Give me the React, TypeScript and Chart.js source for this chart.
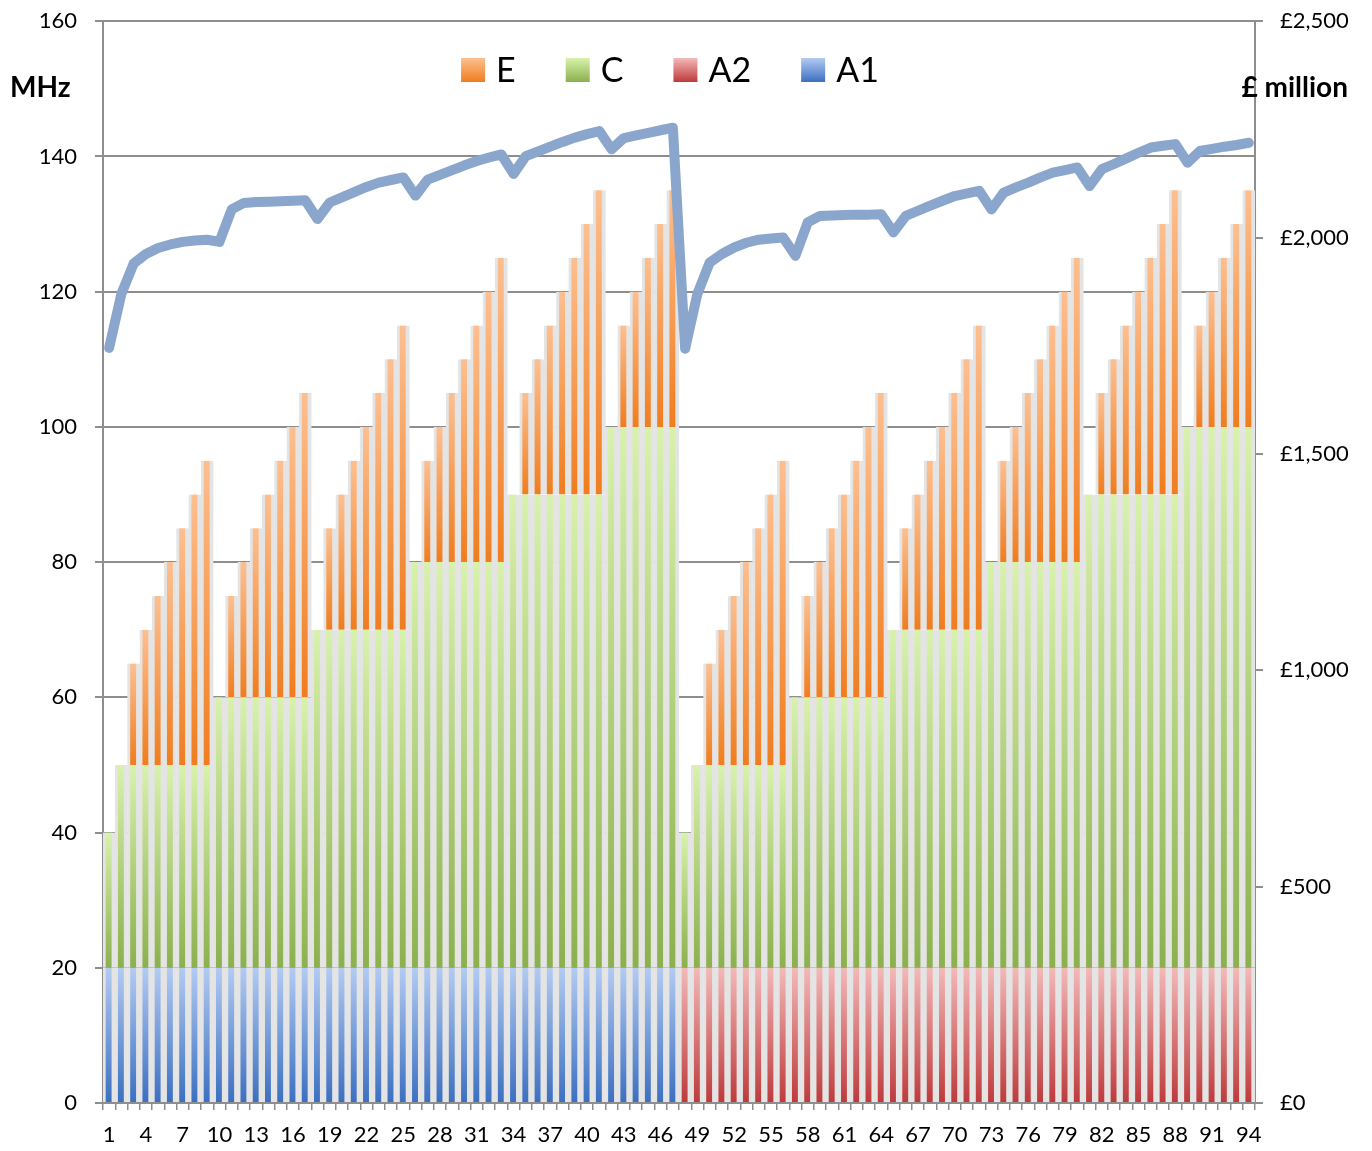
import React, { useEffect, useRef } from 'react';
import { Chart, registerables } from 'chart.js';

Chart.register(...registerables);

const categories = [
  '1','2','3','4','5','6','7','8','9','10','11','12','13','14','15','16','17','18','19','20',
  '21','22','23','24','25','26','27','28','29','30','31','32','33','34','35','36','37','38','39','40',
  '41','42','43','44','45','46','47','48','49','50','51','52','53','54','55','56','57','58','59','60',
  '61','62','63','64','65','66','67','68','69','70','71','72','73','74','75','76','77','78','79','80',
  '81','82','83','84','85','86','87','88','89','90','91','92','93','94',
];

const seriesA1 = [
  20,20,20,20,20,20,20,20,20,20,20,20,20,20,20,20,20,20,20,20,20,20,20,20,
  20,20,20,20,20,20,20,20,20,20,20,20,20,20,20,20,20,20,20,20,20,20,20,
  null,null,null,null,null,null,null,null,null,null,null,null,null,null,null,null,null,null,null,null,null,null,null,null,
  null,null,null,null,null,null,null,null,null,null,null,null,null,null,null,null,null,null,null,null,null,null,null,
];

const seriesA2 = [
  null,null,null,null,null,null,null,null,null,null,null,null,null,null,null,null,null,null,null,null,null,null,null,null,
  null,null,null,null,null,null,null,null,null,null,null,null,null,null,null,null,null,null,null,null,null,null,null,
  20,20,20,20,20,20,20,20,20,20,20,20,20,20,20,20,20,20,20,20,20,20,20,20,
  20,20,20,20,20,20,20,20,20,20,20,20,20,20,20,20,20,20,20,20,20,20,20,
];

const seriesC = [
  20, 30,30,30,30,30,30,30,30, 40,40,40,40,40,40,40,40, 50,50,50,50,50,50,50,50,
  60,60,60,60,60,60,60,60, 70,70,70,70,70,70,70,70, 80,80,80,80,80,80,
  20, 30,30,30,30,30,30,30,30, 40,40,40,40,40,40,40,40, 50,50,50,50,50,50,50,50,
  60,60,60,60,60,60,60,60, 70,70,70,70,70,70,70,70, 80,80,80,80,80,80,
];

const seriesE = [
  null, null,15,20,25,30,35,40,45, null,15,20,25,30,35,40,45, null,15,20,25,30,35,40,45,
  null,15,20,25,30,35,40,45, null,15,20,25,30,35,40,45, null,15,20,25,30,35,
  null, null,15,20,25,30,35,40,45, null,15,20,25,30,35,40,45, null,15,20,25,30,35,40,45,
  null,15,20,25,30,35,40,45, null,15,20,25,30,35,40,45, null,15,20,25,30,35,
];

const lineValues = [
  1745,1870,1940,1962,1976,1984,1990,1993,1995,1990,2065,2080,2082,2083,2084,2085,2086,
  2043,2081,2093,2105,2117,2127,2133,2139,2097,2134,2145,2156,2167,2177,2185,2192,
  2147,2188,2199,2210,2221,2231,2239,2246,2204,2230,2236,2242,2248,2254,
  1743,1870,1942,1962,1977,1988,1995,1998,2000,1958,2035,2050,2051,2052,2053,2053,2054,
  2012,2050,2062,2074,2085,2096,2102,2108,2065,2104,2116,2127,2139,2150,2156,2162,
  2119,2158,2170,2183,2196,2208,2212,2216,2173,2200,2205,2210,2214,2219,
];

const seriesNames = ['A1', 'A2', 'C', 'E'];
const legendOrder = ['E', 'C', 'A2', 'A1'];
const leftAxisTitle = 'MHz';
const rightAxisTitle = '£ million';

const FONT = 'Lato, "Open Sans", sans-serif';
const GRID = '#8e8e8e';
const SHIFT = 10; // canvas is lifted by this many px so the plot top sits at y=20

const palette: Record<string, { top: string; bottom: string }> = {
  A1: { top: '#b3cbf2', bottom: '#3b6fc0' },
  A2: { top: '#f3b9b9', bottom: '#be3a3a' },
  C: { top: '#d8f2ac', bottom: '#8cb04e' },
  E: { top: '#fdbf90', bottom: '#f07d1e' },
};

function baseOf(name: string, i: number): number {
  if (name === 'C') return (seriesA1[i] ?? seriesA2[i] ?? 0) as number;
  if (name === 'E') return ((seriesA1[i] ?? seriesA2[i] ?? 0) as number) + ((seriesC[i] ?? 0) as number);
  return 0;
}

function gradientFor(name: string) {
  return (c: any) => {
    const col = palette[name];
    if (c.type !== 'data') return col.bottom;
    const chart = c.chart;
    const y = chart.scales && chart.scales.y;
    const v = c.dataset.data[c.dataIndex];
    if (!y || v == null) return col.bottom;
    const b = baseOf(name, c.dataIndex);
    const top = y.getPixelForValue(b + v);
    const bot = y.getPixelForValue(b);
    if (!isFinite(top) || !isFinite(bot) || top === bot) return col.bottom;
    const g = chart.ctx.createLinearGradient(0, top, 0, bot);
    g.addColorStop(0, col.top);
    g.addColorStop(1, col.bottom);
    return g;
  };
}

const dataForName: Record<string, (number | null)[]> = {
  A1: seriesA1,
  A2: seriesA2,
  C: seriesC,
  E: seriesE,
};

const overlayPlugin = {
  id: 'overlay',
  afterDraw(chart: any) {
    const ctx = chart.ctx;
    const area = chart.chartArea;
    ctx.save();
    // axis titles
    ctx.fillStyle = '#000';
    ctx.font = `bold 28px ${FONT}`;
    ctx.textBaseline = 'middle';
    ctx.textAlign = 'left';
    ctx.fillText(leftAxisTitle, 10, 88 + SHIFT);
    ctx.textAlign = 'right';
    ctx.fillText(rightAxisTitle, 1348, 88 + SHIFT);
    // legend
    ctx.font = `34px ${FONT}`;
    ctx.textAlign = 'left';
    const box = 24;
    const gapText = 11;
    const gapItem = 50;
    let total = 0;
    legendOrder.forEach((n, k) => {
      total += box + gapText + ctx.measureText(n).width + (k < legendOrder.length - 1 ? gapItem : 0);
    });
    let x = (area.left + area.right) / 2 - total / 2 - 9;
    const cy = 70 + SHIFT;
    legendOrder.forEach((n) => {
      const col = palette[n];
      const g = ctx.createLinearGradient(0, cy - box / 2, 0, cy + box / 2);
      g.addColorStop(0, col.top);
      g.addColorStop(1, col.bottom);
      ctx.fillStyle = g;
      ctx.fillRect(x, cy - box / 2, box, box);
      ctx.fillStyle = '#000';
      ctx.fillText(n, x + box + gapText, cy + 1);
      x += box + gapText + ctx.measureText(n).width + gapItem;
    });
    ctx.restore();
  },
};

export default function App() {
  const ref = useRef<HTMLCanvasElement | null>(null);

  useEffect(() => {
    if (!ref.current) return;
    const barSets = seriesNames.map((n) => ({
      type: 'bar' as const,
      label: n,
      data: dataForName[n],
      yAxisID: 'y',
      stack: 'bars',
      order: 1,
      backgroundColor: gradientFor(n),
      borderColor: '#e4e4e4',
      borderWidth: { left: 3, right: 4, top: 0, bottom: 0 },
      borderSkipped: false,
      categoryPercentage: 1,
      barPercentage: 1,
    }));
    const chart = new Chart(ref.current, {
      type: 'bar',
      data: {
        labels: categories,
        datasets: [
          ...barSets,
          {
            type: 'line' as const,
            label: 'Value',
            data: lineValues,
            yAxisID: 'y1',
            order: 0,
            borderColor: '#8ba6cc',
            borderWidth: 10,
            pointRadius: 0,
            tension: 0,
            borderJoinStyle: 'round',
            borderCapStyle: 'round',
            fill: false,
          } as any,
        ],
      },
      options: {
        responsive: false,
        animation: false,
        layout: { padding: { top: 10, left: 0, right: 0, bottom: 0 } },
        plugins: { legend: { display: false }, tooltip: { enabled: false } },
        scales: {
          x: {
            stacked: true,
            offset: true,
            grid: {
              display: true,
              drawOnChartArea: false,
              drawTicks: true,
              tickLength: 7,
              color: GRID,
              lineWidth: 1.5,
              offset: true,
            },
            border: { display: true, color: GRID, width: 2 },
            ticks: {
              autoSkip: false,
              maxRotation: 0,
              minRotation: 0,
              padding: 12,
              color: '#000',
              font: { family: FONT, size: 22 },
              callback: (_v: any, i: number) => (i % 3 === 0 ? categories[i] : ''),
            },
            afterFit: (s: any) => {
              s.height = 48;
            },
          },
          y: {
            position: 'left',
            stacked: true,
            min: 0,
            max: 160,
            ticks: { stepSize: 20, padding: 18, color: '#000', font: { family: FONT, size: 22 } },
            grid: { color: GRID, lineWidth: 2, tickLength: 8 },
            border: { display: true, color: GRID, width: 2 },
            afterFit: (s: any) => {
              s.width = 103;
            },
          },
          y1: {
            position: 'right',
            min: 0,
            max: 2500,
            ticks: {
              stepSize: 500,
              padding: 17,
              color: '#000',
              font: { family: FONT, size: 22 },
              callback: (v: any) => '£' + Number(v).toLocaleString('en-GB'),
            },
            grid: { drawOnChartArea: false, tickLength: 8, color: GRID, lineWidth: 2 },
            border: { display: true, color: GRID, width: 2 },
            afterFit: (s: any) => {
              s.width = 117;
            },
          },
        },
      },
      plugins: [overlayPlugin],
    });
    return () => chart.destroy();
  }, []);

  return (
    <div style={{ position: 'absolute', left: 0, top: 0, width: 1372, height: 1151, overflow: 'hidden', background: '#fff' }}>
      <canvas
        ref={ref}
        width={1372}
        height={1151 + SHIFT}
        style={{ display: 'block', position: 'absolute', left: 0, top: -SHIFT }}
      />
    </div>
  );
}
